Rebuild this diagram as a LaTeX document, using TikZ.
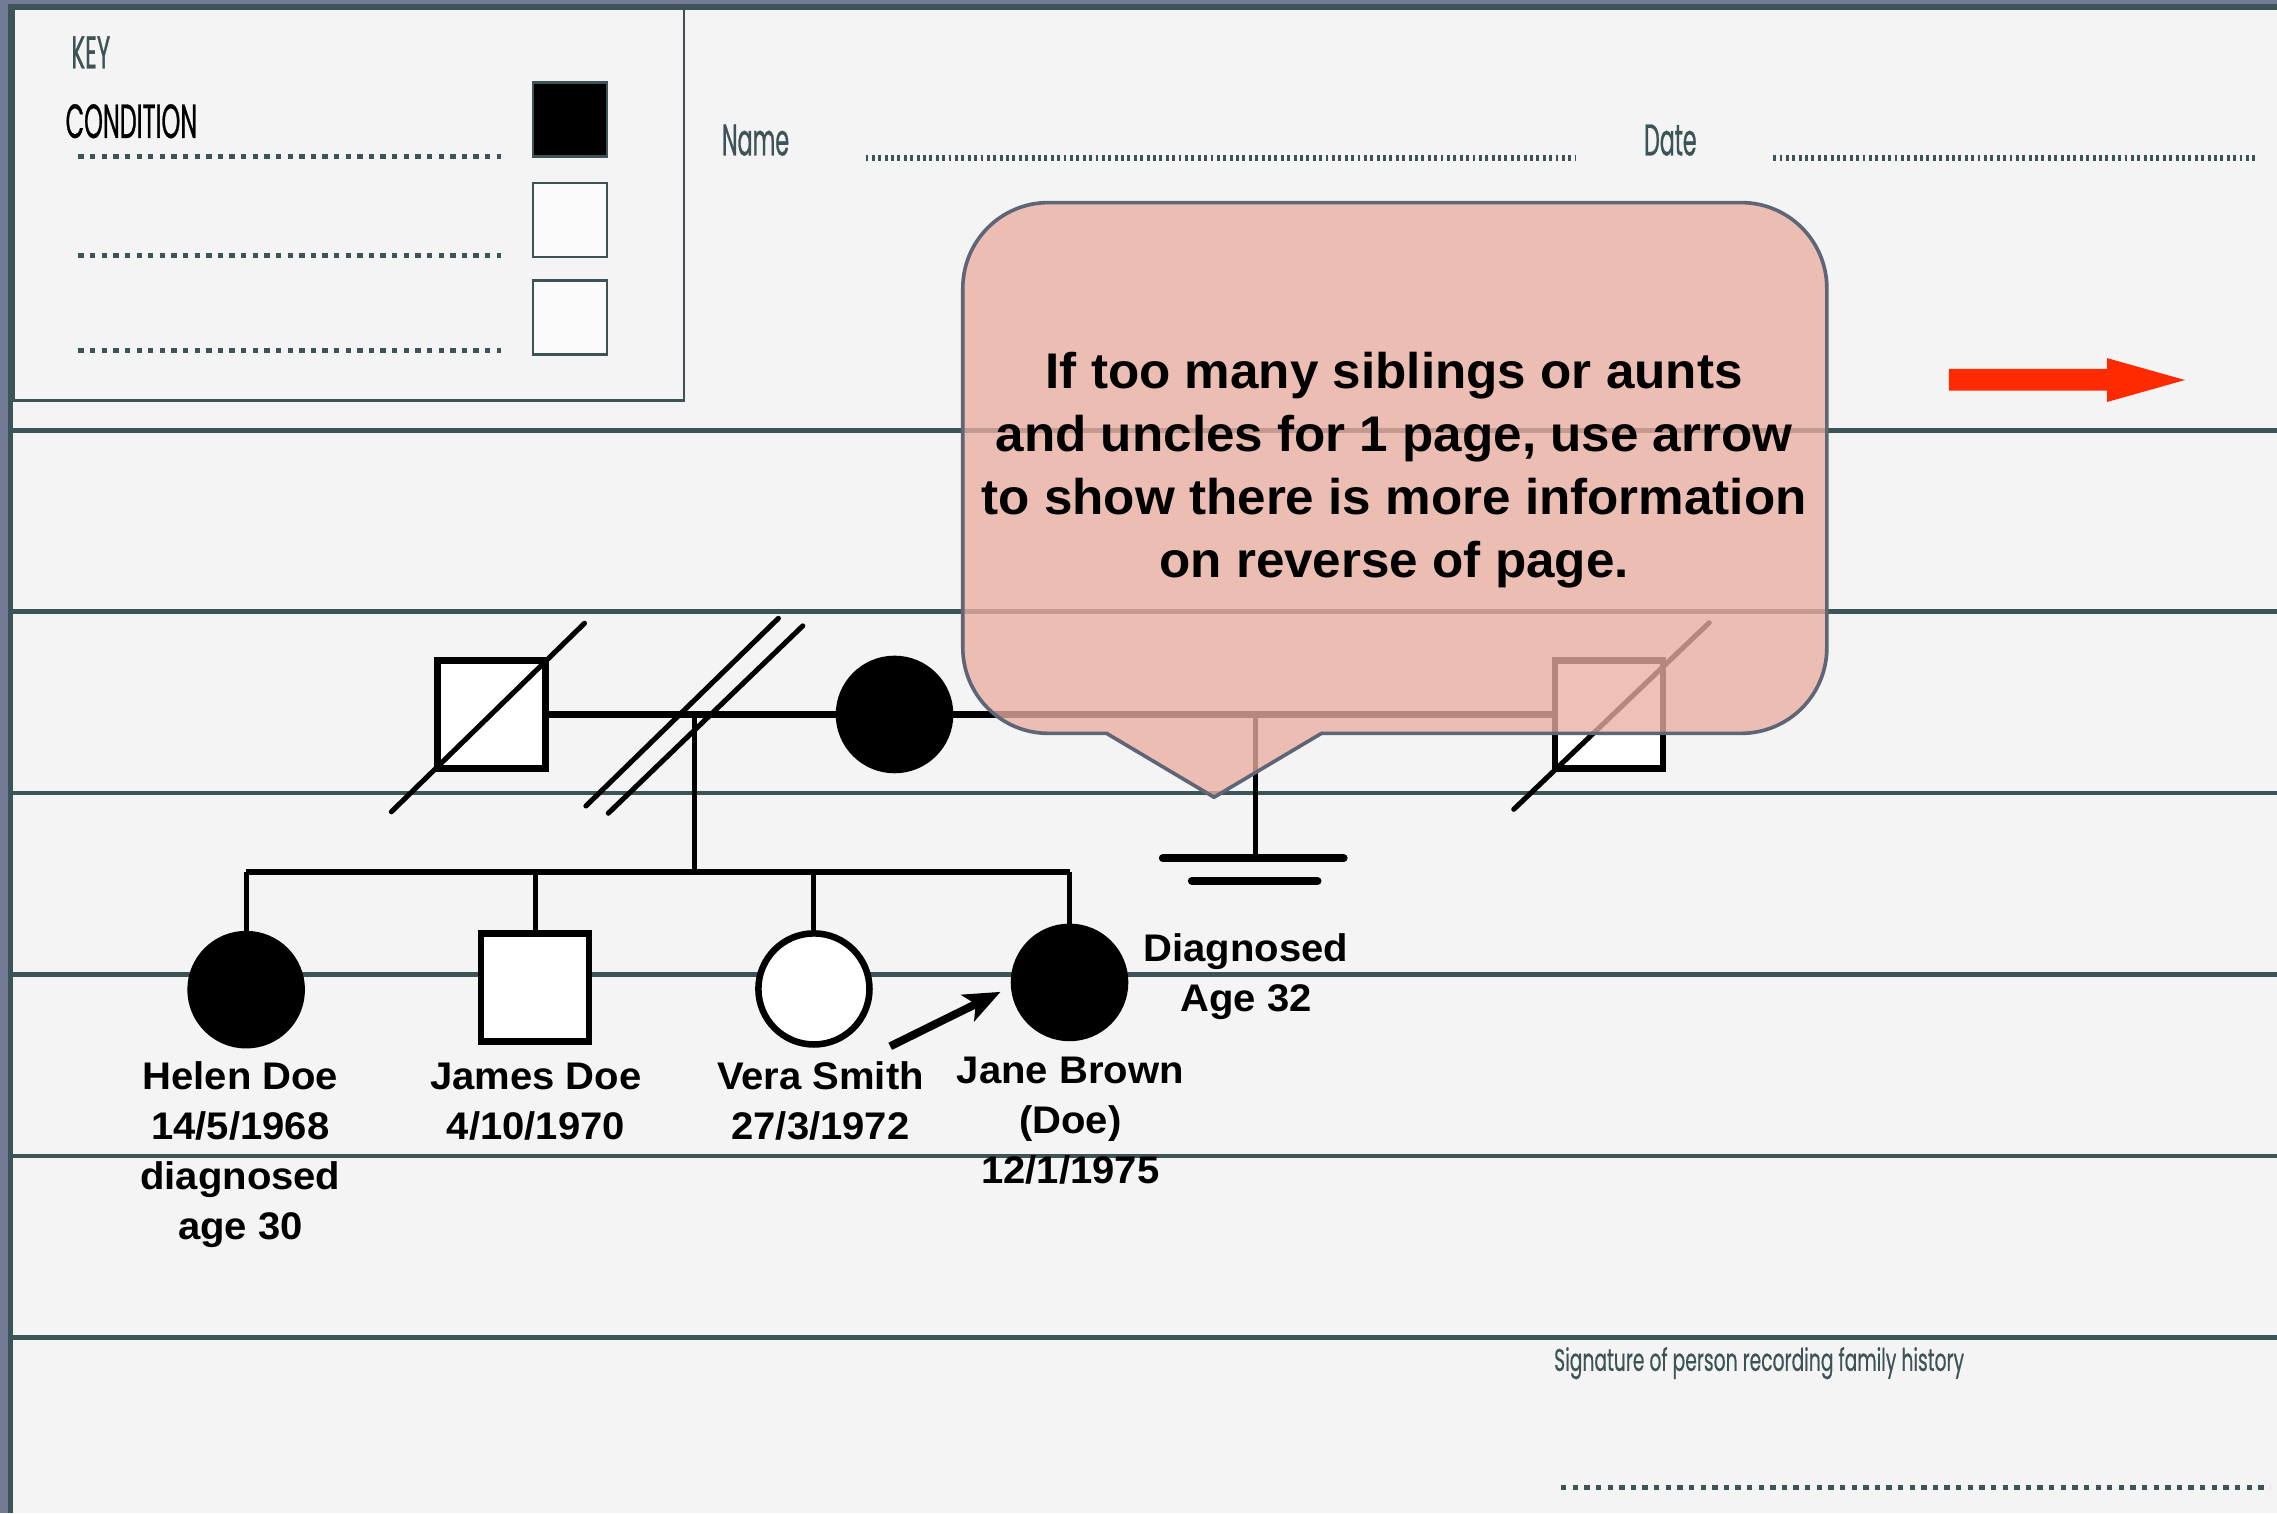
\documentclass[tikz,border=0pt]{standalone}
\usepackage{fontspec}
\setmainfont{Liberation Sans}
\newfontfamily\pedfont[FakeStretch=1.04]{Liberation Sans}
\newfontfamily\notefont[FakeStretch=1.022]{Liberation Sans}
\newfontfamily\formfont[FakeStretch=0.5,FakeBold=0.6]{Poppins}
\newfontfamily\sigfont[FakeStretch=0.6,FakeBold=0.4]{Poppins}
\usetikzlibrary{arrows.meta,calc}
\definecolor{pagebg}{HTML}{F4F4F4}
\definecolor{rulecol}{HTML}{3D5457}
\definecolor{edgecol}{HTML}{727A95}
\definecolor{calloutfill}{RGB}{234,174,161}
\definecolor{calloutedge}{HTML}{5E6577}
\definecolor{arrowred}{HTML}{FF2A00}
\tikzset{
  ruleline/.style={draw=rulecol, line width=3pt},
  keydots/.style={draw=rulecol, line width=3.4pt, dash pattern=on 3.7pt off 4.3pt},
  namedots/.style={draw=rulecol, line width=4pt, dash pattern=on 2pt off 2.4pt},
  formtext/.style={font=\formfont\fontsize{#1}{#1}\selectfont, text=rulecol, inner sep=0pt, anchor=base west},
  keysq/.style={rectangle, draw=rulecol, line width=2pt, minimum size=51pt, inner sep=0pt},
  malesym/.style={rectangle, draw=black, line width=4.5pt, minimum size=74.5pt, inner sep=0pt, fill=white},
  femalesym/.style={circle, draw=black, line width=4.5pt, minimum size=76.5pt, inner sep=0pt, fill=white},
  affected/.style={fill=black},
  coupleline/.style={draw=black, line width=4.5pt},
  descline/.style={draw=black, line width=3.5pt},
  slashline/.style={draw=black, line width=3.5pt, line cap=round},
  pedlabel/.style={font=\pedfont\bfseries\fontsize{26.5pt}{34.5pt}\selectfont, align=center, inner sep=0pt, anchor=base},
  notebox/.style={fill=calloutfill, fill opacity=0.775, draw=calloutedge, line width=2.5pt, line join=round},
  notetext/.style={font=\notefont\bfseries\fontsize{34.5pt}{43.4pt}\selectfont, align=center, inner sep=0pt, anchor=base},
}
\begin{document}
\begin{tikzpicture}[x=1pt,y=-1pt]
\useasboundingbox (0,0) rectangle (1568,1042);
\fill[pagebg] (0,0) rectangle (1568,1042);
% page border
\fill[edgecol] (0,0) rectangle (1568,3);
\fill[rulecol] (5.5,3) rectangle (1568,7);
\fill[edgecol] (0,0) rectangle (5.5,1042);
\fill[rulecol] (5.5,3) rectangle (9,1042);
% ruled lines
\foreach \yy in {296.5,421,546,671,796,921} \draw[ruleline] (9,\yy) -- (1568,\yy);
% key box
\draw[draw=rulecol, line width=2pt] (9,6) rectangle (471,275.5);
\node[formtext=31.5pt] (keytitle) at (49,47) {KEY};
\node[formtext=33pt, text=black] (condlabel) at (45,95) {CONDITION};
\node[keysq, fill=black] (key1) at (392.5,82.5) {};
\node[keysq, fill=white!60!pagebg] (key2) at (392.5,151.5) {};
\node[keysq, fill=white!60!pagebg] (key3) at (392.5,218.5) {};
\draw[keydots] (54,108) -- (345,108);
\draw[keydots] (54,176) -- (345,176);
\draw[keydots] (54,241.5) -- (345,241.5);
% name and date
\node[formtext=30.5pt] (namelabel) at (497,107) {Name};
\node[formtext=30.5pt] (datelabel) at (1132,107) {Date};
\draw[namedots] (596,109) -- (1085,109);
\draw[namedots] (1221,109) -- (1553,109);
% signature
\node[font=\sigfont\fontsize{21.5pt}{21.5pt}\selectfont, text=rulecol, inner sep=0pt, anchor=base west] (siglabel) at (1070,944) {Signature of person recording family history};
\draw[keydots] (1075,1024) -- (1563,1024);
% red arrow
\fill[arrowred] (1342,254) -- (1451,254) -- (1451,246.6) -- (1504.6,261.7) -- (1451,276.8) -- (1451,269) -- (1342,269) -- cycle;
% pedigree: people
\node[malesym] (father) at (338.5,492) {};
\node[femalesym, affected] (mother) at (616,492) {};
\node[malesym] (husband2) at (1108,492) {};
\node[femalesym, affected] (helen) at (169.5,681.5) {};
\node[malesym] (james) at (368.5,680) {};
\node[femalesym] (vera) at (560.5,681) {};
\node[femalesym, affected] (jane) at (736.5,676.5) {};
% relationship lines
\coordinate (m1) at (478,492);
\coordinate (sib) at (478,600.5);
\coordinate (m2) at (864.5,492);
\coordinate (nochild) at (864.5,591);
\draw[coupleline] (father.east) -- (mother.west);
\draw[coupleline] (mother.east) -- (husband2.west);
\draw[descline] (m1) -- (sib);
\draw[coupleline, line cap=square] (helen.north |- sib) -- (jane.north |- sib);
\foreach \kid in {helen,james,vera,jane} \draw[descline] (\kid.north |- sib) -- (\kid.north);
% divorce
\draw[slashline] ($(m1)+(-74.5,63)$) -- ($(m1)+(58,-66.2)$);
\draw[slashline] ($(m1)+(-59.1,68)$) -- ($(m1)+(74.8,-61)$);
% deceased
\draw[slashline] ($(father)+(-69,67)$) -- ($(father)+(64,-62.8)$);
\draw[slashline] ($(husband2)+(-65.6,65.3)$) -- ($(husband2)+(69,-63.2)$);
% no children
\draw[descline] (m2) -- (nochild);
\draw[coupleline, line width=5.5pt, line cap=round] ($(nochild)+(-63.75,0)$) -- ($(nochild)+(60.75,0)$);
\draw[coupleline, line width=5.5pt, line cap=round] ($(nochild)+(-43.75,15.5)$) -- ($(nochild)+(42.75,15.5)$);
% proband arrow
\coordinate (pstart) at (613,720.5);
\draw[line width=5.5pt, -{Stealth[length=25pt,width=20pt,inset=6pt]}] (pstart) -- ($(jane.west)+(-7,6.5)$);
% labels (anchor = baseline of last line)
\node[pedlabel] (helenlab) at (165.5,853.5) {Helen Doe\\14/5/1968\\diagnosed\\age 30};
\node[pedlabel] (jameslab) at (369,784.5) {James Doe\\4/10/1970};
\node[pedlabel] (veralab) at (565,784.5) {Vera Smith\\27/3/1972};
\node[pedlabel] (janelab) at (737,815) {Jane Brown\\(Doe)\\12/1/1975};
\node[pedlabel] (diaglab) at (858,696.5) {Diagnosed\\Age 32};
% callout
\path[notebox] (722,139.5) -- (1199,139.5) .. controls (1231.6,139.5) and (1258,165.9) .. (1258,198.5)
  -- (1258,446) .. controls (1258,478.6) and (1231.6,505) .. (1199,505)
  -- (910,505) -- (836,549) -- (762,505) -- (722,505)
  .. controls (689.4,505) and (663,478.6) .. (663,446)
  -- (663,198.5) .. controls (663,165.9) and (689.4,139.5) .. (722,139.5) -- cycle;
\node[notetext] (note) at (960,397.6) {If too many siblings or aunts\\and uncles for 1 page, use arrow\\to show there is more information\\on reverse of page.};
\end{tikzpicture}
\end{document}
